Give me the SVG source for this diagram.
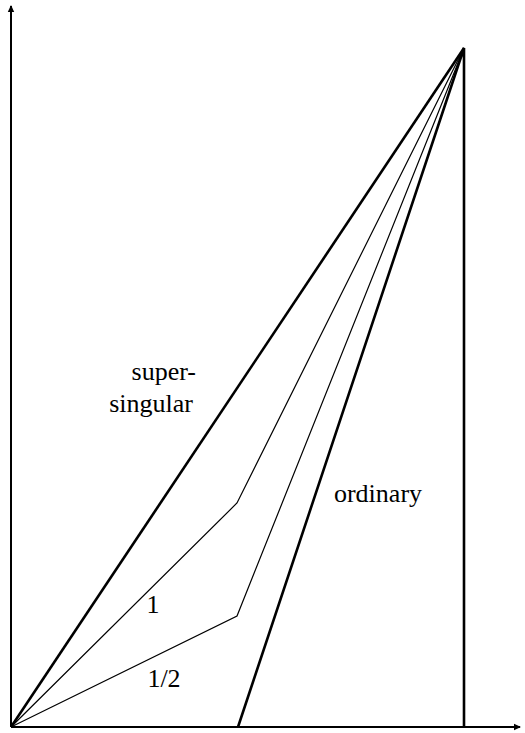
<svg xmlns="http://www.w3.org/2000/svg" width="525" height="733" viewBox="0 0 525 733">
<style>
.thick{fill:none;stroke:#000;stroke-width:2.6;stroke-linejoin:miter}
.thin{fill:none;stroke:#000;stroke-width:1.2}
.axis{fill:none;stroke:#000;stroke-width:2}
.lbl{font-family:'Liberation Serif','Times New Roman','DejaVu Serif',serif;font-size:26px;fill:#000}
</style>
<defs>
<marker id="arr" markerWidth="8" markerHeight="8" refX="6" refY="4" orient="auto" markerUnits="userSpaceOnUse">
<path d="M0,0.8 L7,4 L0,7.2 Z" fill="#000"/>
</marker>
</defs>
<g id="connectors">
<path class="axis" d="M11,727 L11,6" marker-end="url(#arr)"/>
<path class="axis" d="M11,727 L520,727" marker-end="url(#arr)"/>
<path class="thick" d="M11,727 L464,48"/>
<path class="thick" d="M238,727 L464,48 L464,727"/>
<path class="thin" d="M11,727 L237,503 L464,48"/>
<path class="thin" d="M11,727 L237,616 L464,48"/>
</g>
<g id="labels">
<text class="lbl" x="196" y="380" text-anchor="end">super-</text>
<text class="lbl" x="193" y="412" text-anchor="end">singular</text>
<text class="lbl" x="153" y="613" text-anchor="middle">1</text>
<text class="lbl" x="164" y="687" text-anchor="middle">1/2</text>
<text class="lbl" x="378" y="502" text-anchor="middle">ordinary</text>
</g>
</svg>
